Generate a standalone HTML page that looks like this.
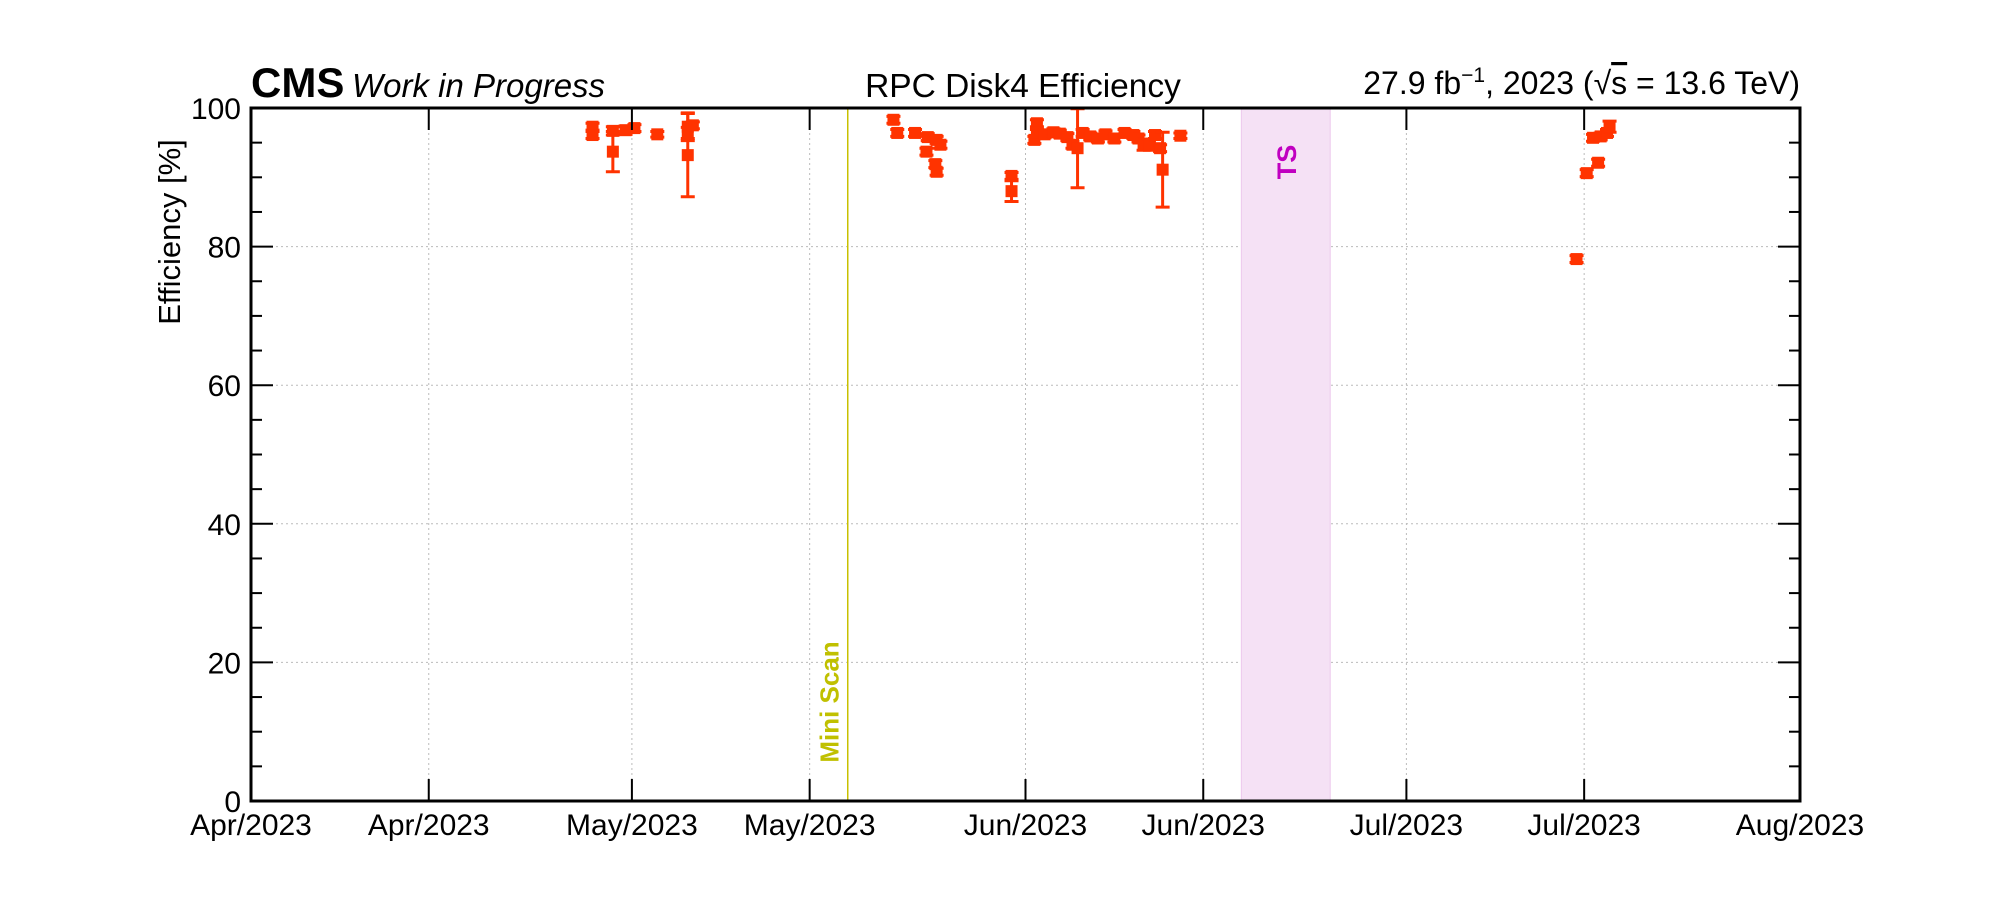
<!DOCTYPE html>
<html><head><meta charset="utf-8"><style>
html,body{margin:0;padding:0;background:#fff;}
svg{display:block;font-family:"Liberation Sans",Arial,sans-serif;}
</style></head><body>
<svg id="chart" width="2000" height="900" viewBox="0 0 2000 900" xmlns="http://www.w3.org/2000/svg">
<rect width="2000" height="900" fill="#fff"/>
<g id="grid"></g>
<g id="bands"></g>
<g id="marks"></g>
<rect x="251" y="108" width="1549" height="693" fill="none" stroke="#000" stroke-width="3"/>
<g id="axes"></g>
<text x="251" y="97" font-size="42" font-weight="bold">CMS</text>
<text x="352" y="97" font-size="33" font-style="italic">Work in Progress</text>
<text x="1023" y="97" font-size="33.5" text-anchor="middle">RPC Disk4 Efficiency</text>
<text x="1800" y="94" font-size="32" text-anchor="end">27.9 fb<tspan dy="-12" font-size="21">−1</tspan><tspan dy="12">, 2023 (</tspan><tspan>√</tspan><tspan text-decoration="overline">s</tspan><tspan> = 13.6 TeV)</tspan></text>
<text transform="translate(180,232) rotate(-90)" font-size="31" text-anchor="middle">Efficiency [%]</text>
</svg>
<script>
const days = [26.9,26.9,28.5,28.5,29.5,30.2,32.0,34.4,34.4,34.4,34.8,50.6,50.9,52.3,53.3,54.0,54.3,53.2,53.9,54.0,59.9,59.9,61.7,61.9,61.9,62.5,63.2,63.7,64.3,64.7,65.1,65.5,66.1,66.7,67.3,68.0,68.8,69.5,69.9,70.3,70.8,71.2,71.6,71.8,73.2,104.4,105.2,106.1,105.7,106.3,106.8,107.0];
const effs = [97.3,96.1,96.7,93.7,96.8,97.1,96.2,97.3,96.4,93.2,97.5,98.3,96.4,96.4,95.8,95.4,94.7,93.7,91.9,90.8,90.2,88.0,95.4,97.8,96.4,96.2,96.5,96.3,95.8,94.7,94.2,96.4,95.9,95.6,96.2,95.6,96.4,96.1,95.6,94.7,94.7,96.1,94.2,91.1,96.0,78.2,90.6,92.1,95.7,95.9,96.4,97.3];
const errs = [0.5,0.5,0.6,2.9,0.6,0.5,0.4,2.0,0.8,6.0,0.5,0.5,0.5,0.5,0.5,0.5,0.5,0.5,0.5,0.5,0.5,1.5,0.5,0.5,0.5,0.5,0.5,0.5,0.5,0.5,5.7,0.5,0.5,0.5,0.5,0.5,0.5,0.5,0.5,0.8,0.8,0.5,0.5,5.4,0.4,0.5,0.5,0.5,0.5,0.5,0.5,0.8];
const xTickDays = [0,14,30,44,61,75,91,105,122];
const xTickLabels = ["Apr/2023","Apr/2023","May/2023","May/2023","Jun/2023","Jun/2023","Jul/2023","Jul/2023","Aug/2023"];
const yTicks = [0,20,40,60,80,100];
const miniScanDay = 47.0;
const tsBand = [78.0,85.0];

const L=251,R=1800,T=108,B=801,NS="http://www.w3.org/2000/svg";
function xs(d){return L+(d/122)*(R-L);}
function ys(v){return B-(v/100)*(B-T);}
function mk(tag,attrs,parent){const e=document.createElementNS(NS,tag);for(const k in attrs)e.setAttribute(k,attrs[k]);parent.appendChild(e);return e;}
const grid=document.getElementById('grid'),axes=document.getElementById('axes'),marks=document.getElementById('marks'),bands=document.getElementById('bands');

xTickDays.forEach((d,i)=>{
  const x=xs(d);
  const g=mk('line',{x1:x,x2:x,y1:T,y2:B,stroke:'#bbb','stroke-width':1,'stroke-dasharray':'2,3'},grid);
  
  
  const t1=mk('line',{x1:x,x2:x,y1:B,y2:B-22,stroke:'#000','stroke-width':2},axes);
  
  
  const t2=mk('line',{x1:x,x2:x,y1:T,y2:T+22,stroke:'#000','stroke-width':2},axes);
  
  
  const lb=mk('text',{x:x,y:835,'font-size':30,'text-anchor':'middle'},axes);
  lb.textContent=xTickLabels[i];
  
  
});
for(let v=0;v<=100;v+=5){
  const y=ys(v),major=v%20===0,len=major?22:11;
  const t=mk('line',{x1:L,x2:L+len,y1:y,y2:y,stroke:'#000','stroke-width':2},axes);
  
  
  const t2=mk('line',{x1:R,x2:R-len,y1:y,y2:y,stroke:'#000','stroke-width':2},axes);
  
  
}
yTicks.forEach(v=>{
  const y=ys(v);
  if(v>0&&v<100){const g=mk('line',{x1:L,x2:R,y1:y,y2:y,stroke:'#bbb','stroke-width':1,'stroke-dasharray':'2,3'},grid);
  
  }
  const lb=mk('text',{x:L-10,y:y+11,'font-size':30,'text-anchor':'end'},axes);
  lb.textContent=v;
  
  
});
const bx=xs(tsBand[0]),bw=xs(tsBand[1])-bx;
const band=mk('rect',{x:bx,y:T,width:bw,height:B-T,fill:'#f5e1f5',stroke:'#ecc8ec','stroke-width':1},bands);


const tsl=mk('text',{transform:`translate(${bx+bw/2+10},162) rotate(-90)`,'font-size':27,'font-weight':'bold',fill:'#c000c0','text-anchor':'middle'},bands);
tsl.textContent='TS';


const mx=xs(miniScanDay);
const ml=mk('line',{x1:mx,x2:mx,y1:T,y2:B,stroke:'#c8c000','stroke-width':1.5},bands);


const mt=mk('text',{transform:`translate(${mx-9},702) rotate(-90)`,'font-size':26,'font-weight':'bold',fill:'#c0c000','text-anchor':'middle'},bands);
mt.textContent='Mini Scan';


days.forEach((d,i)=>{
  const x=xs(d),y=ys(effs[i]),yl=ys(effs[i]-errs[i]),yh=ys(Math.min(100,effs[i]+errs[i]));
  const eb=mk('path',{d:`M${x},${yh}V${yl}M${x-7},${yh}H${x+7}M${x-7},${yl}H${x+7}`,stroke:'#ff3300','stroke-width':3,fill:'none'},marks);
  
  
  const p=mk('rect',{x:x-6,y:y-6,width:12,height:12,fill:'#ff3300'},marks);
  
  
});
</script>
</body></html>
